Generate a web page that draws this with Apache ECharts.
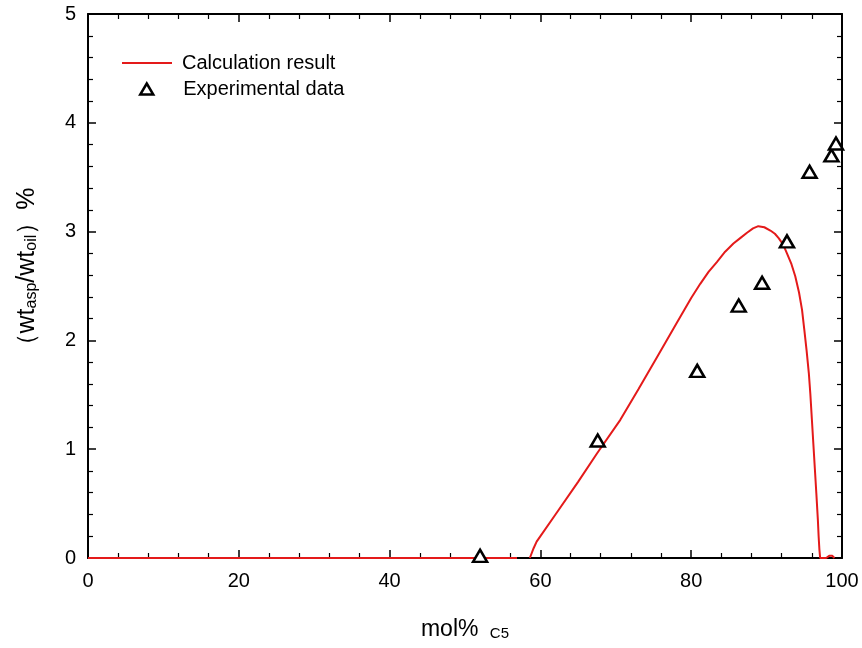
<!DOCTYPE html>
<html>
<head>
<meta charset="utf-8">
<script src="https://cdn.jsdelivr.net/npm/echarts@6/dist/echarts.min.js"></script>
<style>
  html, body { margin: 0; padding: 0; background: #ffffff; }
  #chart { width: 862px; height: 648px; }
</style>
</head>
<body>
<div id="chart"></div>
<script>
// Calculated asphaltene precipitation curve (null marks a break in the line)
const calcX = [0, 56.9, 57.7, 58.6, 59.1, 59.5, 62.0, 65.0, 67.5, 70.6, 73.0, 75.5, 78.0, 80.0, 81.2, 82.3, 83.4, 84.5, 85.6, 86.5, 87.4, 88.2, 88.9, 89.7, 90.5, 91.1, 91.6, 92.2, 92.7, 93.3, 93.8, 94.3, 94.7, 95.0, 95.3, 95.6, 95.8, 96.0, 96.2, 96.4, 96.6, 96.8, 96.9, 97.0, 97.1, 97.9, 98.3, 98.7, 99.0];
const calcY = [0, 0, null, 0, 0.09, 0.15, 0.40, 0.70, 0.96, 1.27, 1.55, 1.85, 2.15, 2.39, 2.52, 2.63, 2.72, 2.815, 2.89, 2.94, 2.99, 3.03, 3.05, 3.04, 3.01, 2.98, 2.94, 2.88, 2.80, 2.70, 2.59, 2.44, 2.28, 2.10, 1.91, 1.70, 1.51, 1.28, 1.05, 0.82, 0.59, 0.35, 0.20, 0.08, 0, 0, 0.02, 0.02, 0];

// Measured points
const expX = [52.0, 67.6, 80.8, 86.3, 89.4, 92.7, 95.7, 98.6, 99.2];
const expY = [0.02, 1.08, 1.72, 2.32, 2.53, 2.91, 3.55, 3.70, 3.81];

// Axis ranges and tick steps
const xTicks = [0, 20, 40, 60, 80, 100];
const yTicks = [0, 1, 2, 3, 4, 5];

const seriesNames = ['Calculation result', 'Experimental data'];

const FONT = '"Liberation Sans", Arial, sans-serif';
const red = '#e41a1a';

const xMin = xTicks[0], xMax = xTicks[xTicks.length - 1], xStep = xTicks[1] - xTicks[0];
const yMin = yTicks[0], yMax = yTicks[yTicks.length - 1], yStep = yTicks[1] - yTicks[0];

function axisCommon(showLabel, margin) {
  return {
    axisLine: { show: true, onZero: false, lineStyle: { color: '#000', width: 2 } },
    axisTick: { show: true, inside: true, length: 8, lineStyle: { color: '#000', width: 1.5 } },
    minorTick: { show: true, splitNumber: 5, length: 5, lineStyle: { color: '#000', width: 1.2 } },
    splitLine: { show: false },
    minorSplitLine: { show: false },
    axisLabel: { show: showLabel, color: '#000', fontSize: 20, fontFamily: FONT, margin: margin || 8 }
  };
}

const chart = echarts.init(document.getElementById('chart'), null, { renderer: 'canvas' });

chart.setOption({
  backgroundColor: '#ffffff',
  animation: false,
  grid: { left: 88, right: 20, top: 14, bottom: 90, containLabel: false },
  legend: [
    {
      data: [{ name: seriesNames[0], icon: 'rect' }],
      orient: 'vertical', left: 117, top: 48,
      itemWidth: 50, itemHeight: 2,
      selectedMode: false,
      itemStyle: { color: red },
      textStyle: { color: '#000', fontSize: 20, fontFamily: FONT, padding: [0, 0, 0, 5] }
    },
    {
      data: [{ name: seriesNames[1], icon: 'triangle' }],
      orient: 'vertical', left: 134, top: 74,
      itemWidth: 13, itemHeight: 11,
      selectedMode: false,
      itemStyle: { color: '#fff', borderColor: '#000', borderWidth: 2.5 },
      textStyle: { color: '#000', fontSize: 20, fontFamily: FONT, padding: [0, 0, 0, 25] }
    }
  ],
  xAxis: [
    Object.assign(axisCommon(true, 13), {
      type: 'value', position: 'bottom', min: xMin, max: xMax, interval: xStep,
      name: '{a|mol% }{s|C5}',
      nameLocation: 'middle', nameGap: 47,
      nameTextStyle: {
        rich: {
          a: { fontSize: 23, fontFamily: FONT, color: '#000', lineHeight: 36, verticalAlign: 'bottom' },
          s: { fontSize: 15, fontFamily: FONT, color: '#000', lineHeight: 15, verticalAlign: 'bottom', padding: [0, 0, 0, 5] }
        }
      }
    }),
    Object.assign(axisCommon(false), {
      type: 'value', position: 'top', min: xMin, max: xMax, interval: xStep
    })
  ],
  yAxis: [
    Object.assign(axisCommon(true, 12), {
      type: 'value', position: 'left', min: yMin, max: yMax, interval: yStep,
      name: '{a|（wt}{s|asp}{a|/wt}{s|oil}{a|）%}',
      nameLocation: 'middle', nameGap: 48, nameRotate: 90,
      nameTextStyle: {
        padding: [0, 0, 0, 26],
        rich: {
          a: { fontSize: 25, fontFamily: FONT, color: '#000', lineHeight: 32, verticalAlign: 'bottom' },
          s: { fontSize: 16, fontFamily: FONT, color: '#000', lineHeight: 16, verticalAlign: 'bottom' }
        }
      }
    }),
    Object.assign(axisCommon(false), {
      type: 'value', position: 'right', min: yMin, max: yMax, interval: yStep
    })
  ],
  series: [
    {
      name: seriesNames[0],
      type: 'line',
      xAxisIndex: 0, yAxisIndex: 0,
      data: calcX.map((x, i) => [x, calcY[i] === null ? '-' : calcY[i]]),
      showSymbol: false,
      symbol: 'none',
      connectNulls: false,
      lineStyle: { color: red, width: 2 },
      itemStyle: { color: red },
      z: 3
    },
    {
      name: seriesNames[1],
      type: 'scatter',
      xAxisIndex: 0, yAxisIndex: 0,
      data: expX.map((x, i) => [x, expY[i]]),
      symbol: 'triangle',
      symbolSize: [14, 12],
      itemStyle: { color: '#fff', borderColor: '#000', borderWidth: 2.5, opacity: 1 },
      z: 4
    }
  ]
});
</script>
</body>
</html>
